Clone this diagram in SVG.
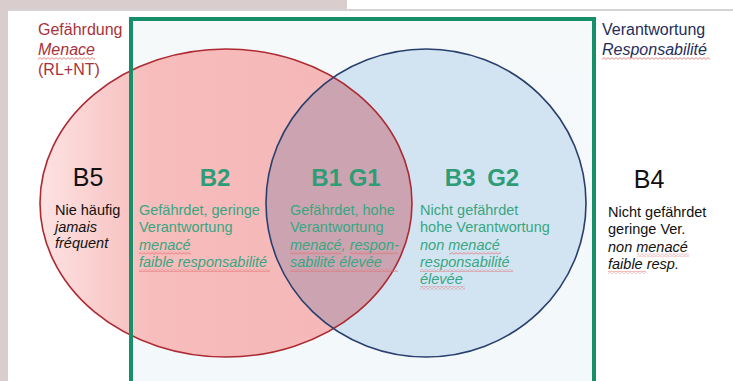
<svg xmlns="http://www.w3.org/2000/svg" width="733" height="381" viewBox="0 0 733 381">
<style>
text{font-family:"Liberation Sans",Arial,sans-serif;}
.big{font-size:25px;}
.bigb{font-size:24px;}
.t{font-size:14.5px;}
.i{font-style:italic;}
.g{fill:#38a682;}
.gb{fill:#2f9c78;font-weight:bold;}
.k{fill:#111;}
.r{fill:#a8323a;}
.n{fill:#1f2e5c;}
.sq{fill:url(#squig);}
</style>
<defs>
<linearGradient id="redFill" x1="40" y1="0" x2="412" y2="0" gradientUnits="userSpaceOnUse">
<stop offset="0" stop-color="#fde2e2"/>
<stop offset="0.3" stop-color="#f7bcbc"/>
<stop offset="1" stop-color="#f5b6b6"/>
</linearGradient>
<linearGradient id="boxFill" x1="0" y1="0" x2="0" y2="1">
<stop offset="0" stop-color="#f6f9fa"/>
<stop offset="1" stop-color="#f3f8fb"/>
</linearGradient>
<clipPath id="redClip"><ellipse cx="226" cy="203" rx="186" ry="154"/></clipPath>
<pattern id="squig" x="0" y="0" width="4" height="3" patternUnits="userSpaceOnUse">
<path d="M0 0.6 L2 2.4 L4 0.6" fill="none" stroke="#e06a6a" stroke-width="0.8"/>
</pattern>
</defs>

<g id="background">
<rect x="0" y="0" width="733" height="381" fill="#ffffff"/>
<rect x="0" y="0" width="347" height="10" fill="#d9cdcd"/>
<rect x="0" y="0" width="8" height="381" fill="#d9cdcd"/>
<rect x="8" y="9" width="725" height="2" fill="#d4d4d4"/>
</g>

<g id="box-fill">
<rect x="131" y="19" width="463" height="380" fill="url(#boxFill)"/>
</g>

<g id="circle-gefaehrdung">
<ellipse cx="226" cy="203" rx="186" ry="154" fill="url(#redFill)"/>
</g>
<g id="circle-verantwortung">
<ellipse cx="426" cy="203" rx="160" ry="154" fill="#d2e4f1"/>
</g>
<g id="intersection">
<ellipse cx="426" cy="203" rx="160" ry="154" fill="#cca4b1" clip-path="url(#redClip)"/>
</g>
<g id="outlines">
<ellipse cx="226" cy="203" rx="186" ry="154" fill="none" stroke="#ad2a32" stroke-width="1.6"/>
<ellipse cx="426" cy="203" rx="160" ry="154" fill="none" stroke="#283f6e" stroke-width="1.6"/>
</g>

<g id="box">
<rect x="131" y="19" width="463" height="380" fill="none" stroke="#17906a" stroke-width="4"/>
</g>

<g id="label-gefaehrdung">
<text x="38" y="35" class="r" font-size="16">Gefährdung</text>
<text x="38" y="55" class="r i" font-size="16">Menace</text>
<rect x="38" y="57" width="57" height="3" class="sq"/>
<text x="38" y="75" class="r" font-size="16">(RL+NT)</text>
</g>

<g id="label-verantwortung">
<text x="602" y="35" class="n" font-size="16">Verantwortung</text>
<text x="602" y="55" class="n i" font-size="16">Responsabilité</text>
<rect x="602" y="57" width="108" height="3" class="sq"/>
</g>

<g id="B5">
<text x="88" y="186" class="big k" text-anchor="middle">B5</text>
<text x="55" y="215" class="t k">Nie häufig</text>
<text x="55" y="231.5" class="t k i">jamais</text>
<text x="55" y="248" class="t k i">fréquent</text>
</g>

<g id="B2">
<text x="215" y="186" class="bigb gb" text-anchor="middle">B2</text>
<text x="139" y="215" class="t g">Gefährdet, geringe</text>
<text x="139" y="232.3" class="t g">Verantwortung</text>
<text x="139" y="249.6" class="t g i">menacé</text>
<rect x="139" y="251.6" width="52" height="3" class="sq"/>
<text x="139" y="267" class="t g i">faible responsabilité</text>
<rect x="139" y="269" width="131" height="3" class="sq"/>
</g>

<g id="B1G1">
<text x="346" y="186" class="bigb gb" text-anchor="middle">B1 G1</text>
<text x="290" y="215" class="t g">Gefährdet, hohe</text>
<text x="290" y="232.3" class="t g">Verantwortung</text>
<text x="290" y="249.6" class="t g i">menacé, respon-</text>
<rect x="290" y="251.6" width="52" height="3" class="sq"/>
<rect x="350" y="251.6" width="48" height="3" class="sq"/>
<text x="290" y="267" class="t g i">sabilité élevée</text>
<rect x="290" y="269" width="108" height="3" class="sq"/>
</g>

<g id="B3G2">
<text x="482" y="186" class="bigb gb" text-anchor="middle" word-spacing="5">B3 G2</text>
<text x="420" y="215" class="t g">Nicht gefährdet</text>
<text x="420" y="232.3" class="t g">hohe Verantwortung</text>
<text x="420" y="249.6" class="t g i">non menacé</text>
<rect x="449" y="251.6" width="52" height="3" class="sq"/>
<text x="420" y="267" class="t g i">responsabilité</text>
<rect x="420" y="269" width="93" height="3" class="sq"/>
<text x="420" y="284.3" class="t g i">élevée</text>
<rect x="420" y="286.3" width="45" height="3" class="sq"/>
</g>

<g id="B4">
<text x="649" y="188" class="big k" text-anchor="middle">B4</text>
<text x="608" y="217" class="t k">Nicht gefährdet</text>
<text x="608" y="234.3" class="t k">geringe Ver.</text>
<text x="608" y="251.6" class="t k i">non menacé</text>
<rect x="637" y="253.6" width="52" height="3" class="sq"/>
<text x="608" y="269" class="t k i">faible resp.</text>
<rect x="608" y="271" width="38" height="3" class="sq"/>
</g>
</svg>
